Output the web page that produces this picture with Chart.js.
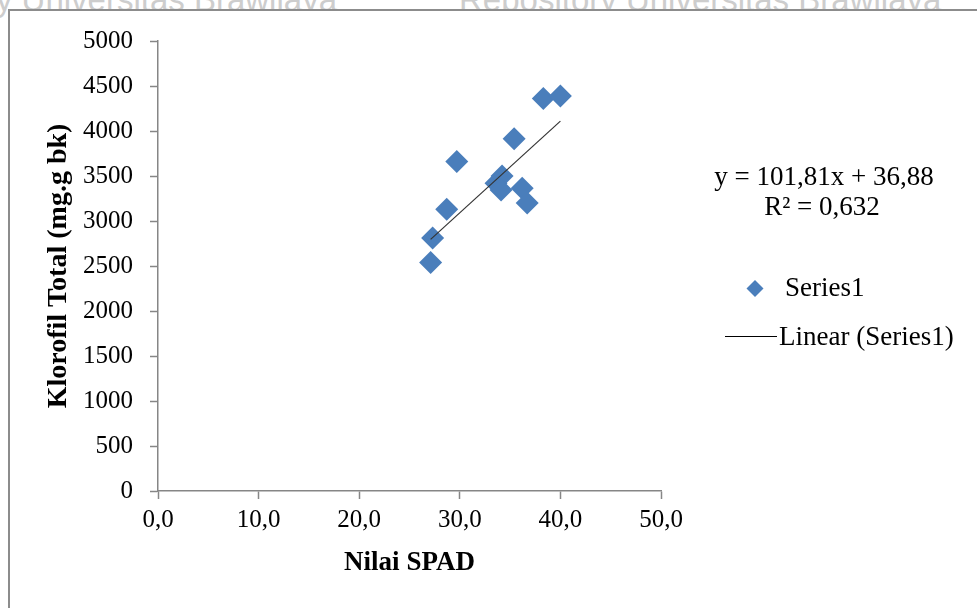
<!DOCTYPE html>
<html>
<head>
<meta charset="utf-8">
<script src="https://cdn.jsdelivr.net/npm/chart.js@4.4.0/dist/chart.umd.min.js"></script>
<style>
  html, body { margin: 0; padding: 0; background: #fff; }
  #wrap { position: relative; width: 977px; height: 608px; overflow: hidden; }
  .watermark {
    position: absolute; top: -19px; white-space: nowrap;
    font-family: "Liberation Sans", Arial, sans-serif; font-size: 33px; color: #cdcdcd;
  }
  #frame {
    position: absolute; left: 8px; top: 9px; width: 980px; height: 610px;
    border-left: 2px solid #8c8c8c; border-top: 2px solid #8c8c8c; background: #fff;
  }
  #chart { position: absolute; left: 0; top: 0; }
</style>
</head>
<body>
<div id="wrap">
  <div class="watermark" style="right: 640px;">ory Universitas Brawijaya</div>
  <div class="watermark" style="left: 459px;">Repository Universitas Brawijaya</div>
  <div id="frame"></div>
  <canvas id="chart" width="977" height="608"></canvas>
</div>
<script>
// data
const spadValues = [27.1, 27.3, 28.7, 29.7, 33.6, 34.2, 34.1, 35.4, 36.2, 36.7, 38.3, 40.0];
const klorofilValues = [2540, 2810, 3130, 3660, 3420, 3500, 3345, 3915, 3365, 3200, 4360, 4390];
const xTicks = [0, 10, 20, 30, 40, 50];
const yTicks = [0, 500, 1000, 1500, 2000, 2500, 3000, 3500, 4000, 4500, 5000];
const trendSlope = 101.81;
const trendIntercept = 36.88;
const rSquared = '0,632';

const serif = '"Liberation Serif", "Times New Roman", serif';
const blue = '#4a7ebb';
const axisGrey = '#868686';

const points = spadValues.map((x, i) => ({ x: x, y: klorofilValues[i] }));
const xMin = Math.min(...spadValues);
const xMax = Math.max(...spadValues);
const trendPoints = [xMin, xMax].map(x => ({ x: x, y: trendSlope * x + trendIntercept }));

const fmt = v => v.toFixed(2).replace('.', ',');

// legend + equation drawn at the right, like the Excel chart
const sideLegend = {
    id: 'sideLegend',
    afterDraw(chart) {
        const ctx = chart.ctx;
        ctx.save();
        ctx.fillStyle = '#000';
        ctx.font = '27px ' + serif;
        ctx.textBaseline = 'middle';
        ctx.textAlign = 'center';
        ctx.fillText('y = ' + fmt(trendSlope) + 'x + ' + fmt(trendIntercept), 824, 178);
        ctx.fillText('R\u00b2 = ' + rSquared, 822, 208);

        ctx.textAlign = 'left';
        // marker for Series1
        ctx.fillStyle = blue;
        ctx.beginPath();
        ctx.moveTo(755, 280);
        ctx.lineTo(763.5, 288.5);
        ctx.lineTo(755, 297);
        ctx.lineTo(746.5, 288.5);
        ctx.closePath();
        ctx.fill();
        ctx.fillStyle = '#000';
        ctx.fillText('Series1', 785, 289);

        // trendline sample
        ctx.strokeStyle = '#000';
        ctx.lineWidth = 1;
        ctx.beginPath();
        ctx.moveTo(725, 336.5);
        ctx.lineTo(777, 336.5);
        ctx.stroke();
        ctx.fillText('Linear (Series1)', 779, 338);
        ctx.restore();
    }
};

new Chart(document.getElementById('chart'), {
    type: 'scatter',
    data: {
        datasets: [
            {
                label: 'Linear (Series1)',
                type: 'line',
                data: trendPoints,
                borderColor: '#333333',
                borderWidth: 1.2,
                pointRadius: 0,
                fill: false,
                order: 0
            },
            {
                label: 'Series1',
                data: points,
                pointStyle: 'rectRot',
                pointRadius: 11.5,
                pointHoverRadius: 11.5,
                backgroundColor: blue,
                borderColor: blue,
                borderWidth: 0,
                order: 1
            }
        ]
    },
    options: {
        responsive: false,
        animation: false,
        events: [],
        layout: { padding: { left: 0, top: 41, right: 316, bottom: 0 } },
        plugins: {
            legend: { display: false },
            tooltip: { enabled: false }
        },
        scales: {
            x: {
                type: 'linear',
                min: 0,
                max: 50,
                afterBuildTicks: scale => { scale.ticks = xTicks.map(v => ({ value: v })); },
                afterFit: scale => { scale.height = 117; },
                border: { color: axisGrey, width: 1.5 },
                grid: { drawOnChartArea: false, drawTicks: true, tickLength: 8, tickColor: axisGrey, tickWidth: 1.5 },
                ticks: {
                    color: '#000',
                    padding: 6,
                    font: { family: serif, size: 25 },
                    callback: v => v.toFixed(1).replace('.', ',')
                },
                title: {
                    display: true,
                    text: 'Nilai SPAD',
                    color: '#000',
                    font: { family: serif, size: 27, weight: 'bold' },
                    padding: { top: 0, bottom: 29 }
                }
            },
            y: {
                type: 'linear',
                min: 0,
                max: 5000,
                afterBuildTicks: scale => { scale.ticks = yTicks.map(v => ({ value: v })); },
                afterFit: scale => { scale.width = 158; },
                border: { color: axisGrey, width: 1.5 },
                grid: { drawOnChartArea: false, drawTicks: true, tickLength: 8, tickColor: axisGrey, tickWidth: 1.5 },
                ticks: {
                    color: '#000',
                    padding: 17,
                    font: { family: serif, size: 25 },
                    callback: v => String(v)
                },
                title: {
                    display: true,
                    text: 'Klorofil Total (mg.g bk)',
                    color: '#000',
                    font: { family: serif, size: 28, weight: 'bold' },
                    padding: { top: 42, bottom: 0 }
                }
            }
        }
    },
    plugins: [sideLegend]
});
</script>
</body>
</html>
